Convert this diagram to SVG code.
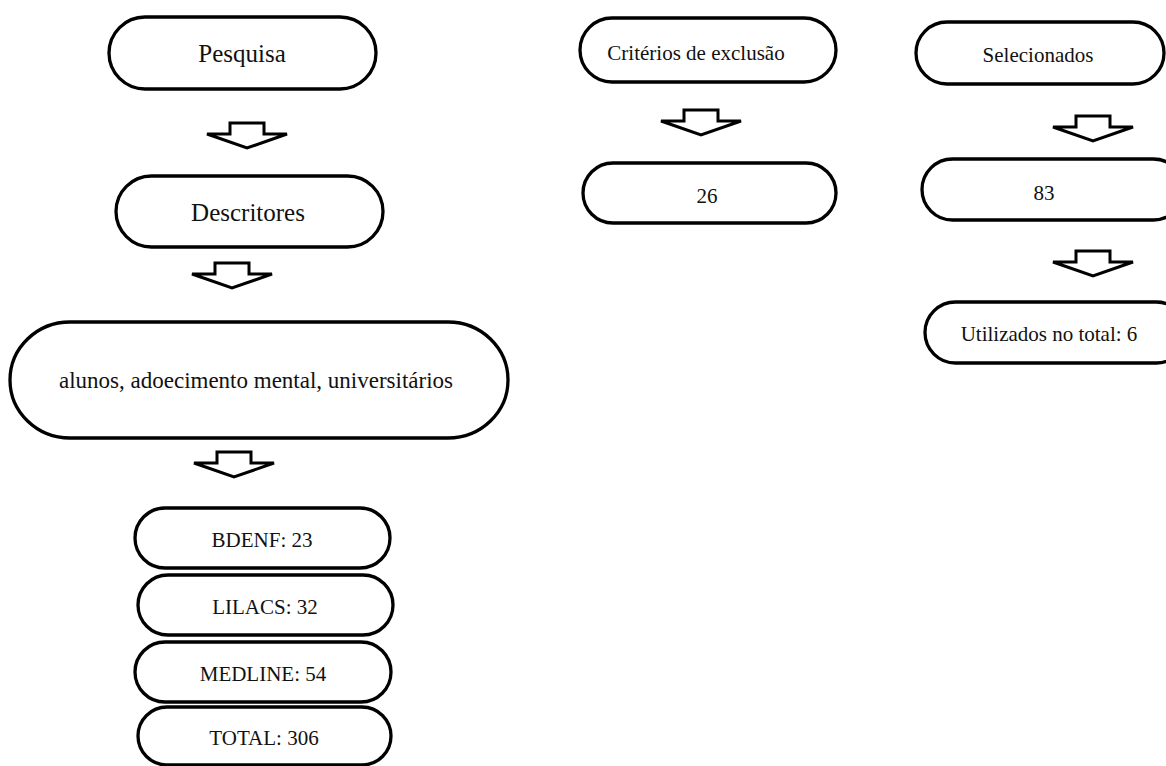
<svg xmlns="http://www.w3.org/2000/svg" xmlns:xlink="http://www.w3.org/1999/xlink" width="1166" height="766" viewBox="0 0 1166 766">
<style>
.box{fill:#fff;stroke:#000;stroke-width:3.3}
.arr{fill:#fff;stroke:#000;stroke-width:3;stroke-linejoin:miter}
text{font-family:"Liberation Serif","Times New Roman",serif;fill:#111;text-anchor:middle}
.big{font-size:25px}
.mid{font-size:23px}
.sm{font-size:21px}
</style>
<defs>
<path id="arrow" class="arr" d="M-17,-25 H17 V-14 H40 L0,0 L-40,-14 H-17 Z"/>
</defs>
<rect width="1166" height="766" fill="#fff"/>
<g id="connectors">
<use xlink:href="#arrow" href="#arrow" x="247" y="148"/>
<use xlink:href="#arrow" href="#arrow" x="232" y="288"/>
<use xlink:href="#arrow" href="#arrow" x="234" y="477"/>
<use xlink:href="#arrow" href="#arrow" x="701" y="135"/>
<use xlink:href="#arrow" href="#arrow" x="1093" y="141"/>
<use xlink:href="#arrow" href="#arrow" x="1093" y="276"/>
</g>
<g id="pesquisa"><rect class="box" x="109" y="17" width="267" height="72" rx="36"/><text class="big" x="242" y="62">Pesquisa</text></g>
<g id="descritores"><rect class="box" x="116" y="176" width="267" height="71" rx="35.5"/><text class="big" x="248" y="221">Descritores</text></g>
<g id="termos"><rect class="box" x="10" y="322" width="498" height="116" rx="60" ry="58"/><text class="mid" x="256" y="388">alunos, adoecimento mental, universitários</text></g>
<g id="bdenf"><rect class="box" x="135" y="508" width="255" height="60" rx="30"/><text class="sm" x="262" y="547">BDENF: 23</text></g>
<g id="lilacs"><rect class="box" x="138" y="575" width="255" height="60" rx="30"/><text class="sm" x="265" y="614">LILACS: 32</text></g>
<g id="medline"><rect class="box" x="135" y="642" width="256" height="60" rx="30"/><text class="sm" x="263" y="681">MEDLINE: 54</text></g>
<g id="total"><rect class="box" x="138" y="707" width="253" height="58" rx="29"/><text class="sm" x="264" y="745">TOTAL: 306</text></g>
<g id="criterios"><rect class="box" x="580" y="18" width="256" height="64" rx="32"/><text class="sm" x="696" y="60">Critérios de exclusão</text></g>
<g id="n26"><rect class="box" x="583" y="163" width="253" height="60" rx="30"/><text class="sm" x="707" y="203">26</text></g>
<g id="selecionados"><rect class="box" x="916" y="22" width="248" height="62" rx="31"/><text class="sm" x="1038" y="62">Selecionados</text></g>
<g id="n83"><rect class="box" x="922" y="159" width="262" height="61" rx="30.5"/><text class="sm" x="1044" y="200">83</text></g>
<g id="utilizados"><rect class="box" x="925" y="302" width="262" height="61" rx="30.5"/><text class="sm" x="1049" y="341">Utilizados no total: 6</text></g>
</svg>
